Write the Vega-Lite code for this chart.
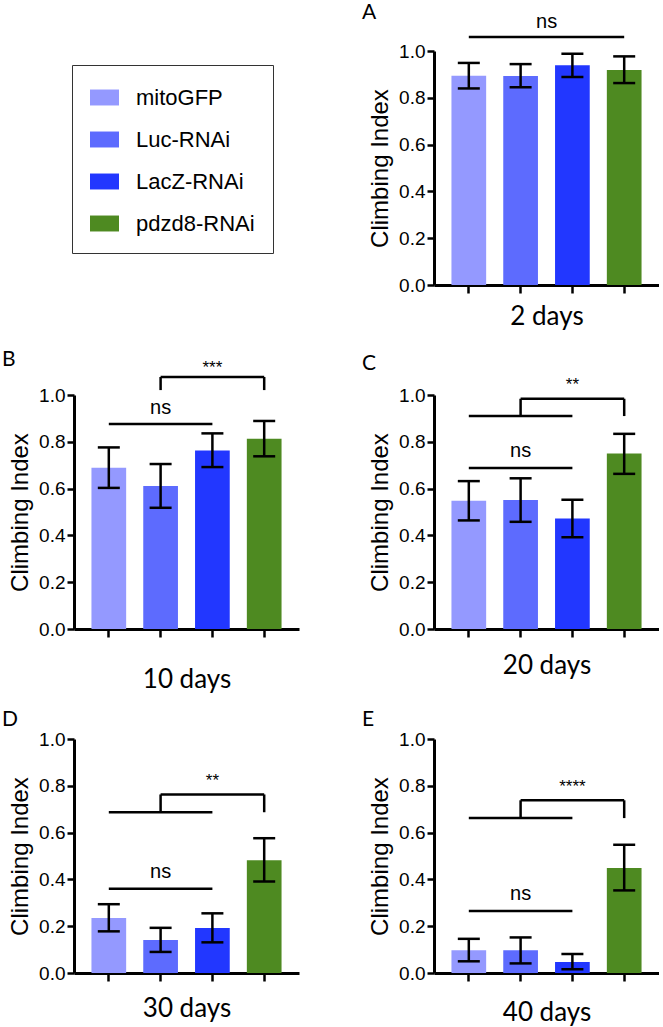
{
"$schema": "https://vega.github.io/schema/vega-lite/v6.json",
"padding": {"left": 2, "top": 2, "right": 0, "bottom": 0},
"background": "white",
"config": {
  "view": {"stroke": null},
  "axis": {"grid": false, "domainColor": "black", "tickColor": "black", "labelColor": "black", "titleColor": "black", "domainWidth": 3, "tickWidth": 2.5, "labelFont": "Liberation Sans", "labelFontSize": 19, "titleFont": "Liberation Sans", "titleFontSize": 24, "titleFontWeight": "normal", "titlePadding": 6, "tickSize": 7, "labelPadding": 2},
  "axisX": {"labels": false, "tickSize": 8, "titleFont": "Lato", "titleFontSize": 26, "titleFontWeight": "normal"},
  "title": {"font": "Lato", "fontSize": 21, "fontWeight": "normal", "anchor": "start", "frame": "group", "dx": -72, "color": "black"},
  "legend": {"strokeWidth": 1}
},
"datasets": {
  "bars": [
    {"panel": "A", "group": "mitoGFP", "mean": 0.894, "lo": 0.840, "hi": 0.949},
    {"panel": "A", "group": "Luc-RNAi", "mean": 0.893, "lo": 0.845, "hi": 0.944},
    {"panel": "A", "group": "LacZ-RNAi", "mean": 0.939, "lo": 0.889, "hi": 0.988},
    {"panel": "A", "group": "pdzd8-RNAi", "mean": 0.919, "lo": 0.863, "hi": 0.977},
    {"panel": "B", "group": "mitoGFP", "mean": 0.689, "lo": 0.603, "hi": 0.776},
    {"panel": "B", "group": "Luc-RNAi", "mean": 0.611, "lo": 0.518, "hi": 0.705},
    {"panel": "B", "group": "LacZ-RNAi", "mean": 0.763, "lo": 0.692, "hi": 0.836},
    {"panel": "B", "group": "pdzd8-RNAi", "mean": 0.813, "lo": 0.738, "hi": 0.889},
    {"panel": "C", "group": "mitoGFP", "mean": 0.548, "lo": 0.464, "hi": 0.632},
    {"panel": "C", "group": "Luc-RNAi", "mean": 0.551, "lo": 0.458, "hi": 0.644},
    {"panel": "C", "group": "LacZ-RNAi", "mean": 0.472, "lo": 0.392, "hi": 0.552},
    {"panel": "C", "group": "pdzd8-RNAi", "mean": 0.750, "lo": 0.663, "hi": 0.834},
    {"panel": "D", "group": "mitoGFP", "mean": 0.235, "lo": 0.178, "hi": 0.294},
    {"panel": "D", "group": "Luc-RNAi", "mean": 0.141, "lo": 0.090, "hi": 0.193},
    {"panel": "D", "group": "LacZ-RNAi", "mean": 0.192, "lo": 0.131, "hi": 0.255},
    {"panel": "D", "group": "pdzd8-RNAi", "mean": 0.482, "lo": 0.391, "hi": 0.576},
    {"panel": "E", "group": "mitoGFP", "mean": 0.097, "lo": 0.050, "hi": 0.146},
    {"panel": "E", "group": "Luc-RNAi", "mean": 0.097, "lo": 0.041, "hi": 0.152},
    {"panel": "E", "group": "LacZ-RNAi", "mean": 0.047, "lo": 0.016, "hi": 0.081},
    {"panel": "E", "group": "pdzd8-RNAi", "mean": 0.449, "lo": 0.353, "hi": 0.548}
  ],
  "segs": [
    {"panel": "A", "group": "mitoGFP", "group2": "pdzd8-RNAi", "v": 1.06, "v2": 1.06},
    {"panel": "B", "group": "mitoGFP", "group2": "LacZ-RNAi", "v": 0.876, "v2": 0.876},
    {"panel": "B", "group": "Luc-RNAi", "group2": "pdzd8-RNAi", "v": 1.077, "v2": 1.077},
    {"panel": "B", "group": "Luc-RNAi", "group2": "Luc-RNAi", "v": 1.077, "v2": 1.021},
    {"panel": "B", "group": "pdzd8-RNAi", "group2": "pdzd8-RNAi", "v": 1.077, "v2": 1.021},
    {"panel": "C", "group": "mitoGFP", "group2": "LacZ-RNAi", "v": 0.688, "v2": 0.688},
    {"panel": "C", "group": "mitoGFP", "group2": "LacZ-RNAi", "v": 0.910, "v2": 0.910},
    {"panel": "C", "group": "Luc-RNAi", "group2": "pdzd8-RNAi", "v": 0.984, "v2": 0.984},
    {"panel": "C", "group": "Luc-RNAi", "group2": "Luc-RNAi", "v": 0.984, "v2": 0.910},
    {"panel": "C", "group": "pdzd8-RNAi", "group2": "pdzd8-RNAi", "v": 0.984, "v2": 0.910},
    {"panel": "D", "group": "mitoGFP", "group2": "LacZ-RNAi", "v": 0.36, "v2": 0.36},
    {"panel": "D", "group": "mitoGFP", "group2": "LacZ-RNAi", "v": 0.687, "v2": 0.687},
    {"panel": "D", "group": "Luc-RNAi", "group2": "pdzd8-RNAi", "v": 0.763, "v2": 0.763},
    {"panel": "D", "group": "Luc-RNAi", "group2": "Luc-RNAi", "v": 0.763, "v2": 0.687},
    {"panel": "D", "group": "pdzd8-RNAi", "group2": "pdzd8-RNAi", "v": 0.763, "v2": 0.687},
    {"panel": "E", "group": "mitoGFP", "group2": "LacZ-RNAi", "v": 0.265, "v2": 0.265},
    {"panel": "E", "group": "mitoGFP", "group2": "LacZ-RNAi", "v": 0.662, "v2": 0.662},
    {"panel": "E", "group": "Luc-RNAi", "group2": "pdzd8-RNAi", "v": 0.738, "v2": 0.738},
    {"panel": "E", "group": "Luc-RNAi", "group2": "Luc-RNAi", "v": 0.738, "v2": 0.662},
    {"panel": "E", "group": "pdzd8-RNAi", "group2": "pdzd8-RNAi", "v": 0.738, "v2": 0.662}
  ],
  "notes": [
    {"panel": "A", "group": "Luc-RNAi", "v": 1.098, "label": "ns"},
    {"panel": "B", "group": "LacZ-RNAi", "v": 1.094, "label": "***"},
    {"panel": "B", "group": "Luc-RNAi", "v": 0.917, "label": "ns"},
    {"panel": "C", "group": "LacZ-RNAi", "v": 1.021, "label": "**"},
    {"panel": "C", "group": "Luc-RNAi", "v": 0.735, "label": "ns"},
    {"panel": "D", "group": "LacZ-RNAi", "v": 0.798, "label": "**"},
    {"panel": "D", "group": "Luc-RNAi", "v": 0.407, "label": "ns"},
    {"panel": "E", "group": "LacZ-RNAi", "v": 0.772, "label": "****"},
    {"panel": "E", "group": "Luc-RNAi", "v": 0.312, "label": "ns"}
  ]
},
"columns": 2,
"bounds": "flush",
"spacing": {"row": 110, "column": 135},
"resolve": {"legend": {"color": "independent"}},
"concat": [
  {
    "width": 225, "height": 234,
    "data": {"name": "bars"},
    "transform": [{"filter": "datum.panel === 'A'"}],
    "mark": {"type": "text", "text": ""},
    "encoding": {"color": {"field": "group", "type": "nominal",
      "scale": {"domain": ["mitoGFP", "Luc-RNAi", "LacZ-RNAi", "pdzd8-RNAi"], "range": ["#9499FF", "#5D6BFE", "#2237FF", "#4E8A21"]},
      "legend": {"title": null, "orient": "none", "legendX": -2, "legendY": 14, "direction": "vertical", "symbolType": "M-1,-0.55H1V0.55H-1Z", "symbolSize": 841, "symbolStrokeWidth": 0, "symbolOpacity": 1, "labelFont": "Liberation Sans", "labelFontSize": 22, "labelColor": "black", "labelOffset": 17, "rowPadding": 16, "padding": 18, "strokeColor": "#333", "labelLimit": 300}}}
  },
  {
    "width": 225, "height": 234,
    "title": {"text": "A", "dy": 15},
    "encoding": {
      "x": {"field": "group", "type": "nominal", "scale": {"domain": ["mitoGFP", "Luc-RNAi", "LacZ-RNAi", "pdzd8-RNAi"], "paddingInner": 0.33, "paddingOuter": 0.337}, "axis": {"title": "2 days", "titlePadding": 9}},
      "color": {"field": "group", "type": "nominal", "scale": {"domain": ["mitoGFP", "Luc-RNAi", "LacZ-RNAi", "pdzd8-RNAi"], "range": ["#9499FF", "#5D6BFE", "#2237FF", "#4E8A21"]}, "legend": null}
    },
    "layer": [
      {"data": {"name": "bars"}, "transform": [{"filter": "datum.panel === 'A'"}], "mark": {"type": "bar"},
       "encoding": {"y": {"field": "mean", "type": "quantitative", "scale": {"domain": [0, 1]}, "axis": {"values": [0, 0.2, 0.4, 0.6, 0.8, 1], "format": ".1f", "titleFontSize": 24, "labelFontSize": 19}, "title": "Climbing Index"}}},
      {"data": {"name": "bars"}, "transform": [{"filter": "datum.panel === 'A'"}], "mark": {"type": "rule", "color": "black", "strokeWidth": 2.5},
       "encoding": {"color": {"value": "black"}, "y": {"field": "lo", "type": "quantitative", "scale": {"domain": [0, 1]}, "title": "Climbing Index"}, "y2": {"field": "hi"}}},
      {"data": {"name": "bars"}, "transform": [{"filter": "datum.panel === 'A'"}], "mark": {"type": "tick", "color": "black", "size": 22, "thickness": 2.5, "opacity": 1},
       "encoding": {"color": {"value": "black"}, "y": {"field": "lo", "type": "quantitative", "scale": {"domain": [0, 1]}, "title": "Climbing Index"}}},
      {"data": {"name": "bars"}, "transform": [{"filter": "datum.panel === 'A'"}], "mark": {"type": "tick", "color": "black", "size": 22, "thickness": 2.5, "opacity": 1},
       "encoding": {"color": {"value": "black"}, "y": {"field": "hi", "type": "quantitative", "scale": {"domain": [0, 1]}, "title": "Climbing Index"}}},
      {"data": {"name": "segs"}, "transform": [{"filter": "datum.panel === 'A'"}], "mark": {"type": "rule", "color": "black", "strokeWidth": 2.5},
       "encoding": {"color": {"value": "black"}, "x2": {"field": "group2"}, "y": {"field": "v", "type": "quantitative", "scale": {"domain": [0, 1]}, "title": "Climbing Index"}, "y2": {"field": "v2"}}},
      {"data": {"name": "notes"}, "transform": [{"filter": "datum.panel === 'A'"}], "mark": {"type": "text", "font": "Liberation Sans", "fontSize": 20, "baseline": "alphabetic", "color": "black"},
       "encoding": {"color": {"value": "black"}, "x": {"field": "group", "type": "nominal", "bandPosition": 1.25, "axis": {"title": "2 days", "titlePadding": 9}}, "y": {"field": "v", "type": "quantitative", "scale": {"domain": [0, 1]}, "title": "Climbing Index"}, "text": {"field": "label"}}}
    ]
  },
  {
    "width": 225, "height": 234,
    "title": {"text": "B", "dy": 15},
    "encoding": {
      "x": {"field": "group", "type": "nominal", "scale": {"domain": ["mitoGFP", "Luc-RNAi", "LacZ-RNAi", "pdzd8-RNAi"], "paddingInner": 0.33, "paddingOuter": 0.337}, "axis": {"title": "10 days", "titlePadding": 28}},
      "color": {"field": "group", "type": "nominal", "scale": {"domain": ["mitoGFP", "Luc-RNAi", "LacZ-RNAi", "pdzd8-RNAi"], "range": ["#9499FF", "#5D6BFE", "#2237FF", "#4E8A21"]}, "legend": null}
    },
    "layer": [
      {"data": {"name": "bars"}, "transform": [{"filter": "datum.panel === 'B'"}], "mark": {"type": "bar"},
       "encoding": {"y": {"field": "mean", "type": "quantitative", "scale": {"domain": [0, 1]}, "axis": {"values": [0, 0.2, 0.4, 0.6, 0.8, 1], "format": ".1f", "titleFontSize": 24, "labelFontSize": 19}, "title": "Climbing Index"}}},
      {"data": {"name": "bars"}, "transform": [{"filter": "datum.panel === 'B'"}], "mark": {"type": "rule", "color": "black", "strokeWidth": 2.5},
       "encoding": {"color": {"value": "black"}, "y": {"field": "lo", "type": "quantitative", "scale": {"domain": [0, 1]}, "title": "Climbing Index"}, "y2": {"field": "hi"}}},
      {"data": {"name": "bars"}, "transform": [{"filter": "datum.panel === 'B'"}], "mark": {"type": "tick", "color": "black", "size": 22, "thickness": 2.5, "opacity": 1},
       "encoding": {"color": {"value": "black"}, "y": {"field": "lo", "type": "quantitative", "scale": {"domain": [0, 1]}, "title": "Climbing Index"}}},
      {"data": {"name": "bars"}, "transform": [{"filter": "datum.panel === 'B'"}], "mark": {"type": "tick", "color": "black", "size": 22, "thickness": 2.5, "opacity": 1},
       "encoding": {"color": {"value": "black"}, "y": {"field": "hi", "type": "quantitative", "scale": {"domain": [0, 1]}, "title": "Climbing Index"}}},
      {"data": {"name": "segs"}, "transform": [{"filter": "datum.panel === 'B'"}], "mark": {"type": "rule", "color": "black", "strokeWidth": 2.5},
       "encoding": {"color": {"value": "black"}, "x2": {"field": "group2"}, "y": {"field": "v", "type": "quantitative", "scale": {"domain": [0, 1]}, "title": "Climbing Index"}, "y2": {"field": "v2"}}},
      {"data": {"name": "notes"}, "transform": [{"filter": "datum.panel === 'B' && datum.label === 'ns'"}], "mark": {"type": "text", "font": "Liberation Sans", "fontSize": 20, "baseline": "alphabetic", "color": "black"},
       "encoding": {"color": {"value": "black"}, "y": {"field": "v", "type": "quantitative", "scale": {"domain": [0, 1]}, "title": "Climbing Index"}, "text": {"field": "label"}}},
      {"data": {"name": "notes"}, "transform": [{"filter": "datum.panel === 'B' && datum.label !== 'ns'"}], "mark": {"type": "text", "font": "Liberation Sans", "fontSize": 17, "baseline": "alphabetic", "color": "black"},
       "encoding": {"color": {"value": "black"}, "y": {"field": "v", "type": "quantitative", "scale": {"domain": [0, 1]}, "title": "Climbing Index"}, "text": {"field": "label"}}}
    ]
  },
  {
    "width": 225, "height": 234,
    "title": {"text": "C", "dy": 2},
    "encoding": {
      "x": {"field": "group", "type": "nominal", "scale": {"domain": ["mitoGFP", "Luc-RNAi", "LacZ-RNAi", "pdzd8-RNAi"], "paddingInner": 0.33, "paddingOuter": 0.337}, "axis": {"title": "20 days", "titlePadding": 14}},
      "color": {"field": "group", "type": "nominal", "scale": {"domain": ["mitoGFP", "Luc-RNAi", "LacZ-RNAi", "pdzd8-RNAi"], "range": ["#9499FF", "#5D6BFE", "#2237FF", "#4E8A21"]}, "legend": null}
    },
    "layer": [
      {"data": {"name": "bars"}, "transform": [{"filter": "datum.panel === 'C'"}], "mark": {"type": "bar"},
       "encoding": {"y": {"field": "mean", "type": "quantitative", "scale": {"domain": [0, 1]}, "axis": {"values": [0, 0.2, 0.4, 0.6, 0.8, 1], "format": ".1f", "titleFontSize": 24, "labelFontSize": 19}, "title": "Climbing Index"}}},
      {"data": {"name": "bars"}, "transform": [{"filter": "datum.panel === 'C'"}], "mark": {"type": "rule", "color": "black", "strokeWidth": 2.5},
       "encoding": {"color": {"value": "black"}, "y": {"field": "lo", "type": "quantitative", "scale": {"domain": [0, 1]}, "title": "Climbing Index"}, "y2": {"field": "hi"}}},
      {"data": {"name": "bars"}, "transform": [{"filter": "datum.panel === 'C'"}], "mark": {"type": "tick", "color": "black", "size": 22, "thickness": 2.5, "opacity": 1},
       "encoding": {"color": {"value": "black"}, "y": {"field": "lo", "type": "quantitative", "scale": {"domain": [0, 1]}, "title": "Climbing Index"}}},
      {"data": {"name": "bars"}, "transform": [{"filter": "datum.panel === 'C'"}], "mark": {"type": "tick", "color": "black", "size": 22, "thickness": 2.5, "opacity": 1},
       "encoding": {"color": {"value": "black"}, "y": {"field": "hi", "type": "quantitative", "scale": {"domain": [0, 1]}, "title": "Climbing Index"}}},
      {"data": {"name": "segs"}, "transform": [{"filter": "datum.panel === 'C'"}], "mark": {"type": "rule", "color": "black", "strokeWidth": 2.5},
       "encoding": {"color": {"value": "black"}, "x2": {"field": "group2"}, "y": {"field": "v", "type": "quantitative", "scale": {"domain": [0, 1]}, "title": "Climbing Index"}, "y2": {"field": "v2"}}},
      {"data": {"name": "notes"}, "transform": [{"filter": "datum.panel === 'C' && datum.label === 'ns'"}], "mark": {"type": "text", "font": "Liberation Sans", "fontSize": 20, "baseline": "alphabetic", "color": "black"},
       "encoding": {"color": {"value": "black"}, "y": {"field": "v", "type": "quantitative", "scale": {"domain": [0, 1]}, "title": "Climbing Index"}, "text": {"field": "label"}}},
      {"data": {"name": "notes"}, "transform": [{"filter": "datum.panel === 'C' && datum.label !== 'ns'"}], "mark": {"type": "text", "font": "Liberation Sans", "fontSize": 17, "baseline": "alphabetic", "color": "black"},
       "encoding": {"color": {"value": "black"}, "y": {"field": "v", "type": "quantitative", "scale": {"domain": [0, 1]}, "title": "Climbing Index"}, "text": {"field": "label"}}}
    ]
  },
  {
    "width": 225, "height": 234,
    "title": {"text": "D", "dy": 4},
    "encoding": {
      "x": {"field": "group", "type": "nominal", "scale": {"domain": ["mitoGFP", "Luc-RNAi", "LacZ-RNAi", "pdzd8-RNAi"], "paddingInner": 0.33, "paddingOuter": 0.337}, "axis": {"title": "30 days", "titlePadding": 13}},
      "color": {"field": "group", "type": "nominal", "scale": {"domain": ["mitoGFP", "Luc-RNAi", "LacZ-RNAi", "pdzd8-RNAi"], "range": ["#9499FF", "#5D6BFE", "#2237FF", "#4E8A21"]}, "legend": null}
    },
    "layer": [
      {"data": {"name": "bars"}, "transform": [{"filter": "datum.panel === 'D'"}], "mark": {"type": "bar"},
       "encoding": {"y": {"field": "mean", "type": "quantitative", "scale": {"domain": [0, 1]}, "axis": {"values": [0, 0.2, 0.4, 0.6, 0.8, 1], "format": ".1f", "titleFontSize": 24, "labelFontSize": 19}, "title": "Climbing Index"}}},
      {"data": {"name": "bars"}, "transform": [{"filter": "datum.panel === 'D'"}], "mark": {"type": "rule", "color": "black", "strokeWidth": 2.5},
       "encoding": {"color": {"value": "black"}, "y": {"field": "lo", "type": "quantitative", "scale": {"domain": [0, 1]}, "title": "Climbing Index"}, "y2": {"field": "hi"}}},
      {"data": {"name": "bars"}, "transform": [{"filter": "datum.panel === 'D'"}], "mark": {"type": "tick", "color": "black", "size": 22, "thickness": 2.5, "opacity": 1},
       "encoding": {"color": {"value": "black"}, "y": {"field": "lo", "type": "quantitative", "scale": {"domain": [0, 1]}, "title": "Climbing Index"}}},
      {"data": {"name": "bars"}, "transform": [{"filter": "datum.panel === 'D'"}], "mark": {"type": "tick", "color": "black", "size": 22, "thickness": 2.5, "opacity": 1},
       "encoding": {"color": {"value": "black"}, "y": {"field": "hi", "type": "quantitative", "scale": {"domain": [0, 1]}, "title": "Climbing Index"}}},
      {"data": {"name": "segs"}, "transform": [{"filter": "datum.panel === 'D'"}], "mark": {"type": "rule", "color": "black", "strokeWidth": 2.5},
       "encoding": {"color": {"value": "black"}, "x2": {"field": "group2"}, "y": {"field": "v", "type": "quantitative", "scale": {"domain": [0, 1]}, "title": "Climbing Index"}, "y2": {"field": "v2"}}},
      {"data": {"name": "notes"}, "transform": [{"filter": "datum.panel === 'D' && datum.label === 'ns'"}], "mark": {"type": "text", "font": "Liberation Sans", "fontSize": 20, "baseline": "alphabetic", "color": "black"},
       "encoding": {"color": {"value": "black"}, "y": {"field": "v", "type": "quantitative", "scale": {"domain": [0, 1]}, "title": "Climbing Index"}, "text": {"field": "label"}}},
      {"data": {"name": "notes"}, "transform": [{"filter": "datum.panel === 'D' && datum.label !== 'ns'"}], "mark": {"type": "text", "font": "Liberation Sans", "fontSize": 17, "baseline": "alphabetic", "color": "black"},
       "encoding": {"color": {"value": "black"}, "y": {"field": "v", "type": "quantitative", "scale": {"domain": [0, 1]}, "title": "Climbing Index"}, "text": {"field": "label"}}}
    ]
  },
  {
    "width": 225, "height": 234,
    "title": {"text": "E", "dy": 4},
    "encoding": {
      "x": {"field": "group", "type": "nominal", "scale": {"domain": ["mitoGFP", "Luc-RNAi", "LacZ-RNAi", "pdzd8-RNAi"], "paddingInner": 0.33, "paddingOuter": 0.337}, "axis": {"title": "40 days", "titlePadding": 17}},
      "color": {"field": "group", "type": "nominal", "scale": {"domain": ["mitoGFP", "Luc-RNAi", "LacZ-RNAi", "pdzd8-RNAi"], "range": ["#9499FF", "#5D6BFE", "#2237FF", "#4E8A21"]}, "legend": null}
    },
    "layer": [
      {"data": {"name": "bars"}, "transform": [{"filter": "datum.panel === 'E'"}], "mark": {"type": "bar"},
       "encoding": {"y": {"field": "mean", "type": "quantitative", "scale": {"domain": [0, 1]}, "axis": {"values": [0, 0.2, 0.4, 0.6, 0.8, 1], "format": ".1f", "titleFontSize": 24, "labelFontSize": 19}, "title": "Climbing Index"}}},
      {"data": {"name": "bars"}, "transform": [{"filter": "datum.panel === 'E'"}], "mark": {"type": "rule", "color": "black", "strokeWidth": 2.5},
       "encoding": {"color": {"value": "black"}, "y": {"field": "lo", "type": "quantitative", "scale": {"domain": [0, 1]}, "title": "Climbing Index"}, "y2": {"field": "hi"}}},
      {"data": {"name": "bars"}, "transform": [{"filter": "datum.panel === 'E'"}], "mark": {"type": "tick", "color": "black", "size": 22, "thickness": 2.5, "opacity": 1},
       "encoding": {"color": {"value": "black"}, "y": {"field": "lo", "type": "quantitative", "scale": {"domain": [0, 1]}, "title": "Climbing Index"}}},
      {"data": {"name": "bars"}, "transform": [{"filter": "datum.panel === 'E'"}], "mark": {"type": "tick", "color": "black", "size": 22, "thickness": 2.5, "opacity": 1},
       "encoding": {"color": {"value": "black"}, "y": {"field": "hi", "type": "quantitative", "scale": {"domain": [0, 1]}, "title": "Climbing Index"}}},
      {"data": {"name": "segs"}, "transform": [{"filter": "datum.panel === 'E'"}], "mark": {"type": "rule", "color": "black", "strokeWidth": 2.5},
       "encoding": {"color": {"value": "black"}, "x2": {"field": "group2"}, "y": {"field": "v", "type": "quantitative", "scale": {"domain": [0, 1]}, "title": "Climbing Index"}, "y2": {"field": "v2"}}},
      {"data": {"name": "notes"}, "transform": [{"filter": "datum.panel === 'E' && datum.label === 'ns'"}], "mark": {"type": "text", "font": "Liberation Sans", "fontSize": 20, "baseline": "alphabetic", "color": "black"},
       "encoding": {"color": {"value": "black"}, "y": {"field": "v", "type": "quantitative", "scale": {"domain": [0, 1]}, "title": "Climbing Index"}, "text": {"field": "label"}}},
      {"data": {"name": "notes"}, "transform": [{"filter": "datum.panel === 'E' && datum.label !== 'ns'"}], "mark": {"type": "text", "font": "Liberation Sans", "fontSize": 17, "baseline": "alphabetic", "color": "black"},
       "encoding": {"color": {"value": "black"}, "y": {"field": "v", "type": "quantitative", "scale": {"domain": [0, 1]}, "title": "Climbing Index"}, "text": {"field": "label"}}}
    ]
  }
]
}
